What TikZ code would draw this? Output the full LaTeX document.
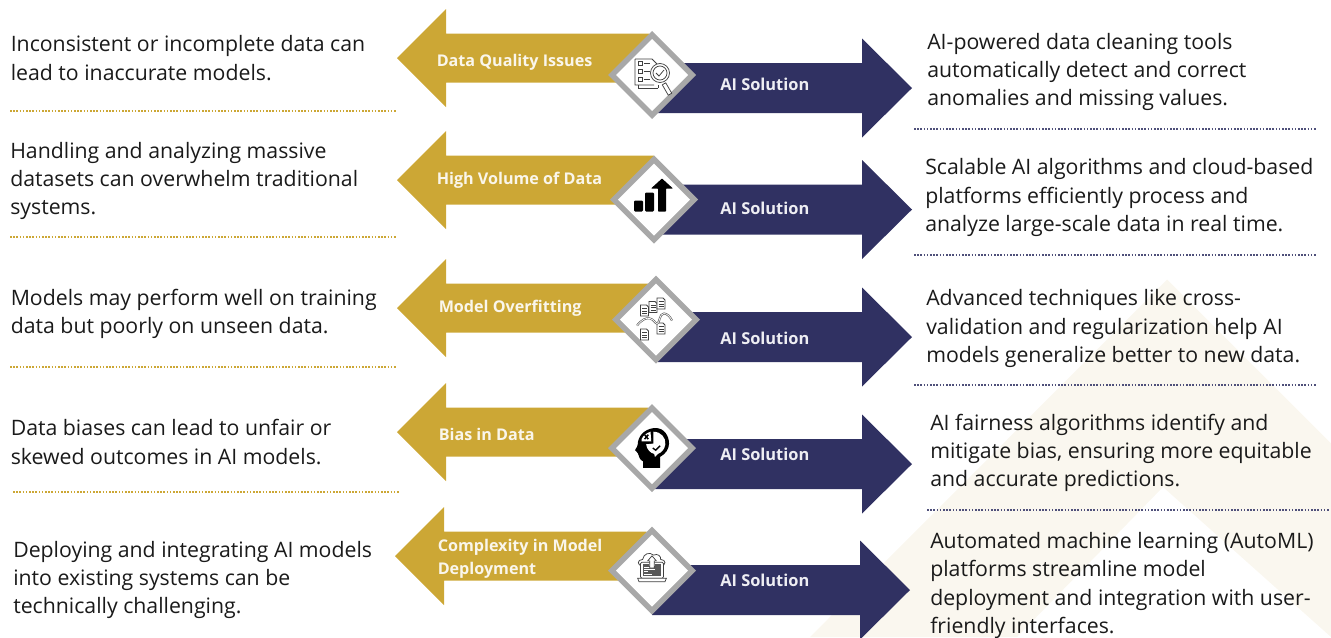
\documentclass[tikz,border=0pt]{standalone}
\usepackage{fontspec}
\setmainfont{Open Sans}
\definecolor{gold}{HTML}{CCA735}
\definecolor{navy}{HTML}{303162}
\definecolor{cream}{HTML}{FAF7EF}
\definecolor{dgray}{HTML}{A8A8A8}
\definecolor{ink}{HTML}{1A1A1A}
\newcommand{\GoldArrow}[3]{\fill[gold] (#1,#2) -- ++(49,-49) -- ++(0,24.5) -- (#3,#2-24.5) -- (#3,#2+24.5) -- (#1+49,#2+24.5) -- ++(0,24.5) -- cycle;}
\newcommand{\NavyArrow}[3]{\fill[navy] (#1,#2) -- ++(-50,-49.5) -- ++(0,24.5) -- (#3,#2-25) -- (#3,#2+25) -- (#1-50,#2+25) -- ++(0,24.5) -- cycle;}
\newcommand{\Dia}[2]{\fill[dgray] (#1,#2-44) -- (#1+44,#2) -- (#1,#2+44) -- (#1-44,#2) -- cycle; \fill[white] (#1,#2-36) -- (#1+36,#2) -- (#1,#2+36) -- (#1-36,#2) -- cycle;}
\tikzset{
 body/.style={align=left,anchor=west,inner sep=0pt,font=\fontsize{15.95pt}{21.3pt}\selectfont,text=ink},
 lab/.style={align=left,anchor=west,inner sep=0pt,font=\fontsize{12.1pt}{17.3pt}\selectfont\bfseries,text=white!90!gold},
 sol/.style={anchor=west,inner sep=0pt,font=\fontsize{12.3pt}{18pt}\selectfont\bfseries,text=white!92!navy},
 gdot/.style={gold,line width=1.2pt,dash pattern=on 1.2pt off 1.2pt},
 ndot/.style={navy!85,line width=1.2pt,dash pattern=on 1.2pt off 1.2pt},
 ic/.style={line width=.55pt,draw=black!75},
}
\begin{document}
\begin{tikzpicture}[x=.75pt,y=-.75pt]
\useasboundingbox (0,0) rectangle (1331,637);
\begin{scope}
\clip (0,0) rectangle (1331,637);
\fill[cream] (810,637) -- (1167,279.5) -- (1331,443.5) -- (1331,637) -- (1163,487) -- (1017,637) -- cycle;
\end{scope}
% row 1
\GoldArrow{397}{58}{649}
\NavyArrow{912}{88}{658}
\Dia{652}{75}
\begin{scope}[shift={(652,75)}]
 \draw[ic] (-17,-16) -- (0,-16) -- (6,-10) -- (6,-8) (-17,-16) -- (-17,10) -- (2,10);
 \draw[ic] (-14,13) -- (6,13) (-14,10) -- (-14,13);
 \draw[ic] (6,10) -- (6,13);
 \foreach \yy in {-12,-4,4}{\draw[ic] (-14,\yy-2) rectangle (-10,\yy+2); \draw[ic] (-8,\yy) -- (-2,\yy);}
 \draw[ic,fill=white] (8,-2) circle (9.5);
 \draw[ic] (8,-2) circle (7);
 \draw[ic] (4,-2) -- (7,1) -- (12,-5);
 \draw[ic,fill=white,rotate around={-60:(15,14)}] (9,12) rectangle (21,16);
\end{scope}
% row 2
\GoldArrow{397}{180}{654}
\NavyArrow{912}{209.5}{663}
\Dia{654}{199.5}
\begin{scope}[shift={(654,199.5)}]
 \fill[black,rounded corners=.8pt] (-20,1) rectangle (-11,12);
 \fill[black,rounded corners=.8pt] (-9,-7) rectangle (0,12);
 \fill[black,rounded corners=.5pt] (4,12) -- (4,-11) -- (-3,-11) -- (8,-21) -- (19,-11) -- (12,-11) -- (12,12) -- cycle;
\end{scope}
% row 3
\GoldArrow{397}{308}{648}
\NavyArrow{912}{337}{657.5}
\Dia{656}{319.5}
\begin{scope}[shift={(656,319.5)}]
 \foreach \xx/\yy in {-11.5/-9,-3/-12.5,5/-16,-11.5/15,5/9}{
  \draw[ic,fill=white] (\xx-4,\yy-5.5) -- (\xx+2,\yy-5.5) -- (\xx+4,\yy-3.5) -- (\xx+4,\yy+5.5) -- (\xx-4,\yy+5.5) -- cycle;
  \foreach \dd in {-2,0.5,3}{\draw[ic,line width=.45pt] (\xx-2.5,\yy+\dd) -- (\xx+2.5,\yy+\dd);}
 }
 \draw[line width=1.5pt,draw=black!65] (-19,6) .. controls (-14,0) and (-10,-2) .. (-6,-1) .. controls (-2,0) and (-1,4) .. (1,4) .. controls (4,4) and (3,-6) .. (8,-6) .. controls (11,-6) and (14,-3) .. (16,1);
 \draw[white,line width=.55pt] (-19,6) .. controls (-14,0) and (-10,-2) .. (-6,-1) .. controls (-2,0) and (-1,4) .. (1,4) .. controls (4,4) and (3,-6) .. (8,-6) .. controls (11,-6) and (14,-3) .. (16,1);
\end{scope}
% row 4
\GoldArrow{397}{432}{648}
\NavyArrow{912}{464}{655}
\Dia{652}{448}
\begin{scope}[shift={(652,448)},scale=.74]
 \fill[black] (-12,27) -- (-12,18) .. controls (-14,17) and (-16,16) .. (-17,13) .. controls (-18,9) and (-19,6) .. (-23,3) .. controls (-21,0) and (-19,-3) .. (-19,-8) .. controls (-17,-20) and (-6,-27) .. (5,-27) .. controls (16,-27) and (23,-17) .. (23,-6) .. controls (23,2) and (18,8) .. (11,12) -- (11,27) -- cycle;
 \fill[white] (-14,-9) -- (-14,-12) .. controls (-12,-17) and (-8,-20) .. (-2,-22) -- (-1,-9) -- cycle;
 \fill[white] (2,-22) .. controls (12,-22) and (19,-14) .. (18,-5) .. controls (17,2) and (13,6) .. (8,8) -- (4,12) -- (3,8) .. controls (-2,7) and (-7,2) .. (-8,-5) -- (2,-6) -- cycle;
 \draw[black,line width=1.1pt] (-10,-18) -- (-5,-12) (-10,-12) -- (-5,-18);
 \draw[black,line width=1pt] (1,0) -- (5,3) -- (11,-3);
\end{scope}
% row 5
\GoldArrow{395}{556}{646.5}
\NavyArrow{910}{590}{652}
\Dia{652}{570.5}
\begin{scope}[shift={(652,569.5)},scale=.72]
 \draw[ic,fill=white] (-13,-5) .. controls (-21,-5) and (-21,-14) .. (-13,-14) .. controls (-12,-22) and (-3,-25) .. (2,-20) .. controls (8,-23) and (13,-18) .. (12,-14) .. controls (20,-14) and (20,-5) .. (12,-5) -- cycle;
 \draw[ic,fill=white,rounded corners=1pt] (-16,-10) rectangle (16,12);
 \fill[black!65] (-13,-7) rectangle (13,9);
 \fill[white] (-4,-9) rectangle (4,-5);
 \foreach \yy/\ww in {-3/-2,0/4,3/-5,6/0}{\draw[white,line width=.5pt] (-11,\yy) -- (\ww,\yy);}
 \draw[ic,fill=white] (-20,12) -- (20,12) -- (18,17) -- (-18,17) -- cycle;
 \draw[ic,fill=white] (-3,-2) -- (-3,-12) -- (-6,-12) -- (0,-19) -- (6,-12) -- (3,-12) -- (3,-2) -- cycle;
\end{scope}
% dotted
\coordinate (ga1) at (10,111); \coordinate (ga2) at (396,111);
\coordinate (gb1) at (10,237); \coordinate (gb2) at (396,237);
\coordinate (gc1) at (10,367); \coordinate (gc2) at (396,367);
\coordinate (gd1) at (13,492); \coordinate (gd2) at (399,492);
\coordinate (na1) at (914,129); \coordinate (na2) at (1316,129);
\coordinate (nb1) at (914,255); \coordinate (nb2) at (1316,255);
\coordinate (nc1) at (914,385); \coordinate (nc2) at (1316,385);
\coordinate (nd1) at (927,510); \coordinate (nd2) at (1330,510);
\draw[gdot] (ga1) -- (ga2); \draw[gdot] (gb1) -- (gb2); \draw[gdot] (gc1) -- (gc2); \draw[gdot] (gd1) -- (gd2);
\draw[ndot] (na1) -- (na2); \draw[ndot] (nb1) -- (nb2); \draw[ndot] (nc1) -- (nc2); \draw[ndot] (nd1) -- (nd2);
% labels
\node[lab] (l1) at (436.5,62) {Data Quality Issues};
\node[lab] (l2) at (436.5,180) {High Volume of Data};
\node[lab] (l3) at (438.5,308) {Model Overfitting};
\node[lab] (l4) at (438.5,434) {Bias in Data};
\node[lab] (l5) at (437.5,559) {Complexity in Model\\Deployment};
\foreach \nm/\yy in {s1/84,s2/208,s3/338,s4/454,s5/580}{\node[sol] (\nm) at (720,\yy) {AI Solution};}
% left text
\node[body] (t1) at (10.5,58) {Inconsistent or incomplete data can\\lead to inaccurate models.};
\node[body] (t2) at (10,181) {Handling and analyzing massive\\datasets can overwhelm traditional\\systems.};
\node[body] (t3) at (10.5,314) {Models may perform well on training\\data but poorly on unseen data.};
\node[body] (t4) at (10.5,442) {Data biases can lead to unfair or\\skewed outcomes in AI models.};
\node[body] (t5) at (13,580) {Deploying and integrating AI models\\into existing systems can be\\technically challenging.};
% right text
\node[body] (r1) at (927,72) {AI-powered data cleaning tools\\automatically detect and correct\\anomalies and missing values.};
\node[body] (r2) at (925,197.5) {Scalable AI algorithms and cloud-based\\platforms efficiently process and\\analyze large-scale data in real time.};
\node[body] (r3) at (926,328.5) {Advanced techniques like cross-\\validation and regularization help AI\\models generalize better to new data.};
\node[body] (r4) at (930,453) {AI fairness algorithms identify and\\mitigate bias, ensuring more equitable\\and accurate predictions.};
\node[body] (r5) at (930,585.5) {Automated machine learning (AutoML)\\platforms streamline model\\deployment and integration with user-\\friendly interfaces.};
\end{tikzpicture}
\end{document}
